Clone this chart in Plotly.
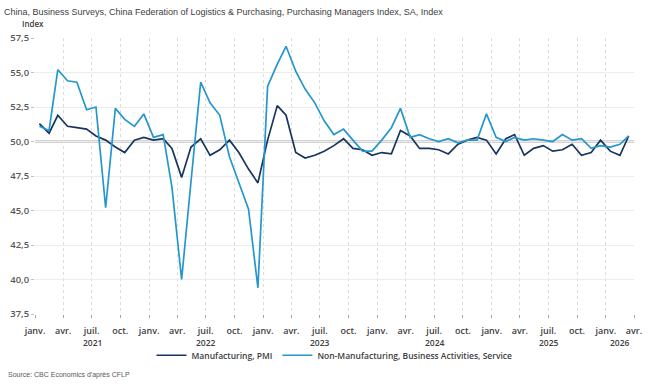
import pandas as pd
import plotly.graph_objects as go

# ---------------- data ----------------
start_month = "2021-01-01"
n_months = 63

manufacturing_pmi = [
    51.3, 50.6, 51.9, 51.1, 51.0, 50.9, 50.4, 50.1, 49.6, 49.2, 50.1, 50.3,
    50.1, 50.2, 49.5, 47.4, 49.6, 50.2, 49.0, 49.4, 50.1, 49.2, 48.0, 47.0,
    50.1, 52.6, 51.9, 49.2, 48.8, 49.0, 49.3, 49.7, 50.2, 49.5, 49.4, 49.0,
    49.2, 49.1, 50.8, 50.4, 49.5, 49.5, 49.4, 49.1, 49.8, 50.1, 50.3, 50.1,
    49.1, 50.2, 50.5, 49.0, 49.5, 49.7, 49.3, 49.4, 49.8, 49.0, 49.2, 50.1,
    49.3, 49.0, 50.4,
]
non_manufacturing_services = [
    51.1, 50.8, 55.2, 54.4, 54.3, 52.3, 52.5, 45.2, 52.4, 51.6, 51.1, 52.0,
    50.3, 50.5, 46.7, 40.0, 47.1, 54.3, 52.8, 51.9, 48.9, 47.0, 45.1, 39.4,
    54.0, 55.6, 56.9, 55.1, 53.8, 52.8, 51.5, 50.5, 50.9, 50.1, 49.3, 49.3,
    50.1, 51.0, 52.4, 50.3, 50.5, 50.2, 50.0, 50.2, 49.9, 50.1, 50.1, 52.0,
    50.3, 50.0, 50.3, 50.1, 50.2, 50.1, 50.0, 50.5, 50.1, 50.2, 49.5, 49.7,
    49.6, 49.8, 50.4,
]
series_names = ["Manufacturing, PMI", "Non-Manufacturing, Business Activities, Service"]
month_labels = {1: "janv.", 4: "avr.", 7: "juil.", 10: "oct."}
year_labels = ["2021", "2022", "2023", "2024", "2025", "2026"]
y_ticks = [37.5, 40.0, 42.5, 45.0, 47.5, 50.0, 52.5, 55.0, 57.5]
reference_level = 50.0
title_text = ("China, Business Surveys, China Federation of Logistics &amp; Purchasing, "
              "Purchasing Managers Index, SA, Index")
source_text = "Source: CBC Economics d'après CFLP"

# ---------------- build ----------------
dates = pd.date_range(start_month, periods=n_months, freq="MS") + pd.Timedelta(days=14)
x_start = pd.Timestamp(start_month)
x_end = pd.Timestamp("2026-04-01")
quarters = pd.date_range(x_start, x_end, freq="QS")
years = pd.date_range(x_start, x_end, freq="YS")

FONT = "Open Sans, sans-serif"
LIB = "Liberation Sans, Arial, sans-serif"
C_MFG = "#17365d"
C_NON = "#2597cd"
C_TXT = "#404040"

fig = go.Figure()
fig.add_trace(go.Scatter(x=dates, y=manufacturing_pmi, mode="lines", name=series_names[0],
                         line=dict(color=C_MFG, width=1.7)))
fig.add_trace(go.Scatter(x=dates, y=non_manufacturing_services, mode="lines", name=series_names[1],
                         line=dict(color=C_NON, width=1.7)))

fig.add_hline(y=reference_level, line=dict(color="#a6a6a6", width=2), layer="below")

# year labels below the month labels (centred on the year, clipped to axis)
for yl in year_labels:
    ys = pd.Timestamp(f"{yl}-01-01")
    ye = min(pd.Timestamp(f"{int(yl)+1}-01-01"), x_end)
    mid = ys + (ye - ys) / 2
    fig.add_annotation(x=mid, y=-0.105, xref="x", yref="paper", text=yl, showarrow=False,
                       font=dict(family=FONT, size=8.5, color=C_TXT, weight=600),
                       xanchor="center", yanchor="middle")

fig.add_annotation(x=-0.0245, y=1.051, xref="paper", yref="paper", text="Index", showarrow=False,
                   font=dict(family=FONT, size=8, color=C_TXT, weight=600),
                   xanchor="left", yanchor="middle")
fig.add_annotation(x=-0.049, y=-0.222, xref="paper", yref="paper", text=source_text, showarrow=False,
                   font=dict(family=LIB, size=7, color="#595959"),
                   xanchor="left", yanchor="middle")

fig.update_layout(
    width=652, height=388,
    margin=dict(l=30, r=10, t=38, b=74),
    paper_bgcolor="white", plot_bgcolor="white",
    separators=", ",
    title=dict(text=title_text, x=4 / 652, xref="container", xanchor="left",
               y=1 - 12 / 388, yref="container", yanchor="middle",
               font=dict(family=LIB, size=9, color=C_TXT)),
    showlegend=True,
    legend=dict(orientation="h", x=0.5, xanchor="center", y=-0.097, yanchor="top",
                font=dict(family=FONT, size=8.5, color=C_TXT, weight=600),
                itemwidth=30, tracegroupgap=0, bgcolor="rgba(0,0,0,0)"),
    xaxis=dict(type="date", range=[x_start, x_end],
               tickmode="array", tickvals=list(quarters),
               ticktext=[month_labels[d.month] for d in quarters],
               ticks="outside", ticklen=3, tickcolor="#a6a6a6", tickwidth=1,
               ticklabelstandoff=5,
               tickfont=dict(family=FONT, size=9, color=C_TXT, weight=600),
               showgrid=True, gridcolor="#dcdcdc", griddash="dot", gridwidth=1,
               showline=False, zeroline=False),
    xaxis2=dict(type="date", range=[x_start, x_end], overlaying="x", anchor="y",
                tickmode="array", tickvals=list(years), showticklabels=False,
                ticks="outside", ticklen=6, tickcolor="#a6a6a6",
                showgrid=True, gridcolor="#bdbdbd", griddash="dot", gridwidth=1,
                showline=False, zeroline=False),
    yaxis=dict(range=[37.5, 57.5], tickmode="array", tickvals=y_ticks, tickformat=".1f",
               ticks="outside", ticklen=3, tickcolor="#bfbfbf",
               tickfont=dict(family=FONT, size=9.5, color="#595959", weight=600),
               showgrid=True, gridcolor="#ececec", gridwidth=1,
               showline=False, zeroline=False),
)

fig.write_html("out.html", config={"displayModeBar": False},
               post_script="document.body.style.margin='0';")
